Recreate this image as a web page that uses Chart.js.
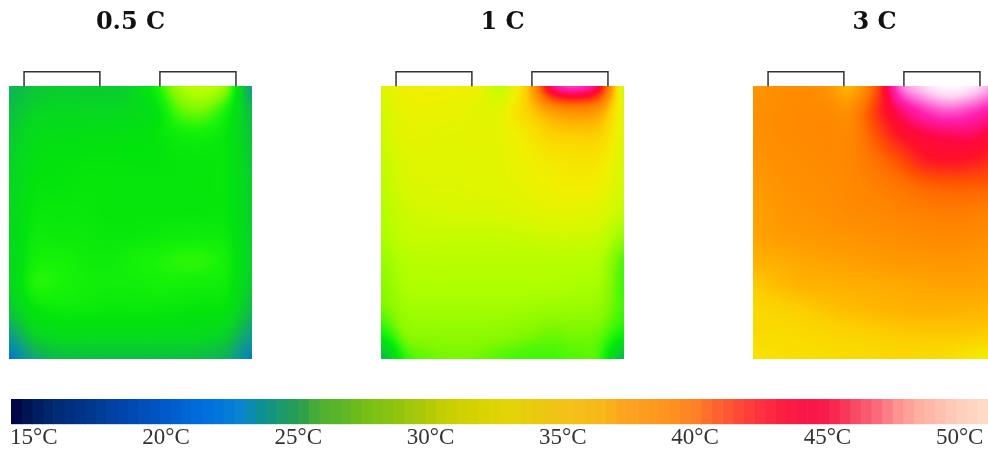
<!DOCTYPE html>
<html>
<head>
<meta charset="utf-8">
<script src="https://cdn.jsdelivr.net/npm/chart.js@4.4.1/dist/chart.umd.min.js"></script>
<style>
  html, body { margin: 0; padding: 0; width: 988px; height: 451px; overflow: hidden; background: #ffffff; }
  canvas { position: absolute; display: block; }
</style>
</head>
<body>
<canvas id="cell0" width="243" height="359" style="left:9px;top:0px"></canvas>
<canvas id="cell1" width="243" height="359" style="left:381px;top:0px"></canvas>
<canvas id="cell2" width="243" height="359" style="left:753px;top:0px"></canvas>
<canvas id="scaleBar" width="988" height="61" style="left:0px;top:390px"></canvas>
<script>
// Discharge rates, one thermal map each
const rates = ['0.5 C', '1 C', '3 C'];

// Surface temperature (°C) on an 11 × 12 node grid: top row first, left column first.
const temp05C = [
  [25.5, 26.2, 26.5, 26.5, 26.5, 26.8, 28.5, 30.6, 31.3, 30.0, 24.5],
  [26.0, 26.8, 27.0, 27.0, 27.0, 27.2, 27.8, 29.5, 29.8, 28.5, 25.8],
  [26.4, 27.3, 27.5, 27.6, 27.7, 27.8, 28.0, 28.4, 28.5, 28.0, 26.2],
  [26.7, 27.6, 27.9, 28.0, 28.0, 28.0, 28.0, 28.1, 28.1, 28.0, 26.4],
  [26.9, 27.9, 28.0, 28.1, 28.1, 28.1, 28.1, 28.1, 28.1, 28.0, 26.6],
  [27.0, 28.1, 28.2, 28.2, 28.1, 28.1, 28.1, 28.1, 28.1, 28.0, 26.6],
  [27.1, 28.3, 28.3, 28.3, 28.2, 28.2, 28.3, 28.4, 28.4, 28.2, 26.7],
  [27.1, 28.5, 28.7, 28.5, 28.4, 28.6, 28.8, 29.0, 29.0, 28.5, 26.7],
  [26.9, 28.8, 28.8, 28.6, 28.5, 28.5, 28.6, 28.6, 28.5, 28.3, 26.5],
  [26.3, 27.9, 28.3, 28.3, 28.2, 28.2, 28.2, 28.1, 28.0, 27.8, 25.8],
  [24.5, 26.7, 27.3, 27.4, 27.4, 27.4, 27.4, 27.3, 27.2, 26.6, 24.5],
  [22.0, 24.8, 25.8, 26.0, 26.0, 26.0, 26.0, 26.0, 25.8, 25.2, 22.5]
];
const temp1C = [
  [32.3, 33.0, 33.0, 33.0, 32.8, 31.5, 35.3, 44.5, 46.5, 43.5, 31.5],
  [31.8, 32.7, 32.8, 32.7, 32.5, 32.6, 34.8, 37.2, 38.2, 37.2, 32.3],
  [31.7, 32.5, 32.5, 32.5, 32.5, 32.6, 33.5, 34.8, 35.0, 34.8, 32.3],
  [31.5, 32.2, 32.4, 32.4, 32.4, 32.5, 33.0, 33.5, 33.8, 33.6, 32.0],
  [31.3, 32.0, 32.2, 32.2, 32.3, 32.4, 32.7, 33.0, 33.2, 33.0, 31.8],
  [31.1, 31.7, 31.9, 32.0, 32.0, 32.1, 32.3, 32.5, 32.5, 32.3, 31.5],
  [30.9, 31.5, 31.6, 31.6, 31.6, 31.6, 31.7, 31.8, 31.8, 31.6, 30.5],
  [30.5, 31.1, 31.2, 31.2, 31.2, 31.2, 31.2, 31.2, 31.2, 31.0, 29.5],
  [30.2, 30.9, 31.0, 31.0, 31.0, 31.0, 31.0, 31.0, 30.9, 30.7, 29.3],
  [29.8, 30.6, 30.7, 30.7, 30.7, 30.7, 30.6, 30.5, 30.5, 30.3, 29.3],
  [28.5, 30.1, 30.3, 30.3, 30.3, 30.2, 30.0, 29.8, 29.9, 29.7, 28.5],
  [25.5, 29.0, 29.7, 29.9, 29.8, 29.5, 29.3, 29.3, 29.5, 29.2, 25.5]
];
const temp3C = [
  [37.7, 38.1, 38.3, 37.8, 36.3, 40.5, 47.0, 49.0, 50.0, 49.5, 48.0],
  [38.0, 38.2, 38.4, 38.4, 38.2, 41.5, 44.5, 46.2, 47.0, 46.5, 45.5],
  [37.9, 38.2, 38.4, 38.5, 38.6, 40.7, 42.8, 43.9, 44.3, 44.4, 43.5],
  [37.7, 38.0, 38.2, 38.4, 38.6, 39.7, 41.0, 42.5, 42.9, 42.7, 42.0],
  [37.3, 37.8, 38.0, 38.2, 38.5, 39.0, 39.6, 40.3, 40.6, 40.6, 40.5],
  [37.0, 37.5, 37.8, 38.0, 38.3, 38.5, 38.8, 39.1, 39.3, 39.2, 39.0],
  [36.8, 37.2, 37.4, 37.6, 37.8, 38.0, 38.2, 38.4, 38.5, 38.4, 38.2],
  [36.3, 36.5, 36.7, 36.9, 37.1, 37.3, 37.5, 37.6, 37.7, 37.6, 37.4],
  [35.3, 35.8, 36.2, 36.3, 36.4, 36.5, 36.6, 36.8, 36.9, 36.9, 36.8],
  [34.5, 34.8, 35.1, 35.5, 35.8, 36.0, 36.2, 36.3, 36.3, 36.2, 36.0],
  [34.3, 34.3, 34.4, 34.6, 34.8, 35.0, 35.2, 35.3, 35.3, 35.2, 35.0],
  [33.8, 34.0, 34.1, 34.2, 34.3, 34.4, 34.5, 34.4, 34.2, 33.5, 33.0]
];
const maps = [temp05C, temp1C, temp3C];

// Colour bar: temperature range and labelled ticks (°C)
const barRange = [14.14, 51.07];
const tickTemps = [15, 20, 25, 30, 35, 40, 45, 50];

// Palette used to paint the thermal maps
const fieldStopTemps = [15, 18, 20, 22, 23.5, 25, 26, 27, 28, 28.8, 29.5, 30, 31, 32, 33, 34, 35, 36, 37, 38, 39, 40, 41, 42, 43, 44, 45, 46, 47, 48, 49, 50];
const fieldStopColors = ['#000050', '#0030a0', '#0050d0', '#0078c8', '#0a90a0', '#10a870', '#0cc040', '#06d820', '#02e40c', '#18f408', '#50f806', '#80f800', '#b0ff00', '#d8f800', '#f0f000', '#f8e000', '#fcd000', '#ffb800', '#ffa000', '#ff9000', '#ff8000', '#ff6c00', '#ff5000', '#ff3018', '#ff1028', '#ff0840', '#ff1080', '#ff20b0', '#ff58cc', '#ff98e4', '#ffd4f2', '#fff8ff'];

// Palette of the colour bar
const barStopTemps = [14.14, 14.9, 15.6, 16.4, 17.5, 18.6, 19.9, 20.9, 21.85, 22.8, 23.6, 24.3, 25.06, 25.8, 26.6, 27.3, 28.5, 29.6, 30.7, 31.9, 33.0, 34.1, 35.3, 36.4, 37.2, 38.3, 39.2, 40.2, 40.9, 41.7, 42.5, 43.2, 44.0, 44.7, 45.5, 46.2, 47.0, 47.7, 48.5, 49.26, 50.0, 51.07];
const barStopColors = ['#000040', '#001858', '#002870', '#003080', '#003c98', '#0048b0', '#0058c8', '#0068d8', '#0074e0', '#0884d0', '#0c9094', '#1a9a70', '#2a9e50', '#50b030', '#5ab428', '#70bc18', '#8cc410', '#aac808', '#c8d000', '#d8d400', '#e4d408', '#ecc810', '#f4c018', '#f8b81a', '#fca620', '#fe9a20', '#ff9020', '#ff7a28', '#ff6030', '#ff4838', '#ff3040', '#fc2040', '#f81848', '#f81848', '#f83058', '#f85068', '#fc7080', '#fe9490', '#ffb0a0', '#ffc0b0', '#ffd0bc', '#ffdcc8'];

// Cell geometry in millimetres: body and terminal tabs
const CELL_W = 100, CELL_H = 112, TAB_H = 6;
const TABS = [[6.2, 37.4], [62.1, 93.4]];

function hexToRgb(h) {
  return [parseInt(h.slice(1, 3), 16), parseInt(h.slice(3, 5), 16), parseInt(h.slice(5, 7), 16)];
}
function makeRamp(temps, colors) {
  const rgb = colors.map(hexToRgb);
  const n = temps.length;
  return t => {
    if (t <= temps[0]) return rgb[0];
    if (t >= temps[n - 1]) return rgb[n - 1];
    let i = 1;
    while (temps[i] < t) i++;
    const f = (t - temps[i - 1]) / (temps[i] - temps[i - 1]);
    const a = rgb[i - 1], b = rgb[i];
    return [a[0] + (b[0] - a[0]) * f, a[1] + (b[1] - a[1]) * f, a[2] + (b[2] - a[2]) * f];
  };
}
const fieldRamp = makeRamp(fieldStopTemps, fieldStopColors);
const barRamp = makeRamp(barStopTemps, barStopColors);
const css = c => `rgb(${Math.round(c[0])},${Math.round(c[1])},${Math.round(c[2])})`;

// Catmull-Rom interpolation between grid nodes
function cr(p0, p1, p2, p3, t) {
  return p1 + 0.5 * t * (p2 - p0 + t * (2 * p0 - 5 * p1 + 4 * p2 - p3 + t * (3 * (p1 - p2) + p3 - p0)));
}
function sampleGrid(g, gx, gy) {
  const R = g.length, C = g[0].length;
  const ix = Math.max(0, Math.min(Math.floor(gx), C - 2));
  const iy = Math.max(0, Math.min(Math.floor(gy), R - 2));
  const tx = gx - ix, ty = gy - iy;
  const at = (r, c) => g[Math.max(0, Math.min(R - 1, r))][Math.max(0, Math.min(C - 1, c))];
  const col = [];
  for (let k = -1; k <= 2; k++) {
    col.push(cr(at(iy + k, ix - 1), at(iy + k, ix), at(iy + k, ix + 1), at(iy + k, ix + 2), tx));
  }
  return cr(col[0], col[1], col[2], col[3], ty);
}

// Paints the temperature field inside the cell body and outlines the tabs
function thermalPlugin(grid) {
  return {
    id: 'thermalField',
    beforeDatasetsDraw(chart) {
      const { ctx, scales: { x, y } } = chart;
      const R = grid.length, C = grid[0].length;
      const px0 = Math.round(x.getPixelForValue(0));
      const px1 = Math.round(x.getPixelForValue(CELL_W));
      const py0 = Math.round(y.getPixelForValue(CELL_H));
      const py1 = Math.round(y.getPixelForValue(0));
      const w = px1 - px0, h = py1 - py0;
      const off = document.createElement('canvas');
      off.width = w; off.height = h;
      const octx = off.getContext('2d');
      const img = octx.createImageData(w, h);
      for (let j = 0; j < h; j++) {
        const v = y.getValueForPixel(py0 + j + 0.5);
        const gy = Math.max(0, Math.min(R - 1, (CELL_H - v) / CELL_H * (R - 1)));
        for (let i = 0; i < w; i++) {
          const u = x.getValueForPixel(px0 + i + 0.5);
          const gx = Math.max(0, Math.min(C - 1, u / CELL_W * (C - 1)));
          const c = fieldRamp(sampleGrid(grid, gx, gy));
          const k = (j * w + i) * 4;
          img.data[k] = c[0]; img.data[k + 1] = c[1]; img.data[k + 2] = c[2]; img.data[k + 3] = 255;
        }
      }
      octx.putImageData(img, 0, 0);
      ctx.save();
      ctx.drawImage(off, px0, py0);
      ctx.restore();
    },
    afterDatasetsDraw(chart) {
      const { ctx, scales: { x, y } } = chart;
      const yb = y.getPixelForValue(CELL_H);
      const yt = y.getPixelForValue(CELL_H + TAB_H);
      ctx.save();
      ctx.strokeStyle = '#333333';
      ctx.lineWidth = 1.5;
      TABS.forEach(([a, b]) => {
        const xa = x.getPixelForValue(a), xb = x.getPixelForValue(b);
        ctx.beginPath();
        ctx.moveTo(xa, yb);
        ctx.lineTo(xa, yt);
        ctx.lineTo(xb, yt);
        ctx.lineTo(xb, yb);
        ctx.stroke();
      });
      ctx.restore();
    }
  };
}

rates.forEach((rate, idx) => {
  const grid = maps[idx];
  new Chart(document.getElementById('cell' + idx), {
    type: 'scatter',
    data: { datasets: [{ data: [], pointRadius: 0 }] },
    options: {
      responsive: false,
      animation: false,
      layout: { padding: 0 },
      scales: {
        x: { type: 'linear', min: 0, max: CELL_W, display: false },
        y: { type: 'linear', min: 0, max: CELL_H + TAB_H, display: false }
      },
      plugins: {
        legend: { display: false },
        tooltip: { enabled: false },
        title: {
          display: true,
          text: rate,
          color: '#111111',
          font: { family: 'DejaVu Serif', size: 24, weight: 'bold', lineHeight: 1.2 },
          padding: { top: 8.5, bottom: 34.4 }
        }
      }
    },
    plugins: [thermalPlugin(grid)]
  });
});

// Colour bar built from short flat-coloured steps
const STEPS = 92;
const barSets = [];
for (let i = 0; i < STEPS; i++) {
  const a = barRange[0] + (barRange[1] - barRange[0]) * i / STEPS;
  const b = barRange[0] + (barRange[1] - barRange[0]) * (i + 1) / STEPS;
  barSets.push({
    data: [[a, b]],
    backgroundColor: css(barRamp((a + b) / 2)),
    borderWidth: 0,
    barPercentage: 1,
    categoryPercentage: 1,
    grouped: false
  });
}
new Chart(document.getElementById('scaleBar'), {
  type: 'bar',
  data: { labels: [''], datasets: barSets },
  options: {
    indexAxis: 'y',
    responsive: false,
    animation: false,
    layout: { padding: { left: 11, right: 0, top: 9, bottom: 1.4 } },
    scales: {
      x: {
        type: 'linear',
        min: barRange[0],
        max: barRange[1],
        grid: { display: false, drawTicks: false },
        border: { display: false },
        afterBuildTicks: s => { s.ticks = tickTemps.map(v => ({ value: v })); },
        ticks: {
          color: '#333333',
          padding: 0,
          maxRotation: 0,
          autoSkip: false,
          font: { family: 'Liberation Serif', size: 23 },
          callback: v => v + '°C'
        }
      },
      y: { display: false }
    },
    plugins: { legend: { display: false }, tooltip: { enabled: false } }
  }
});
</script>
</body>
</html>
